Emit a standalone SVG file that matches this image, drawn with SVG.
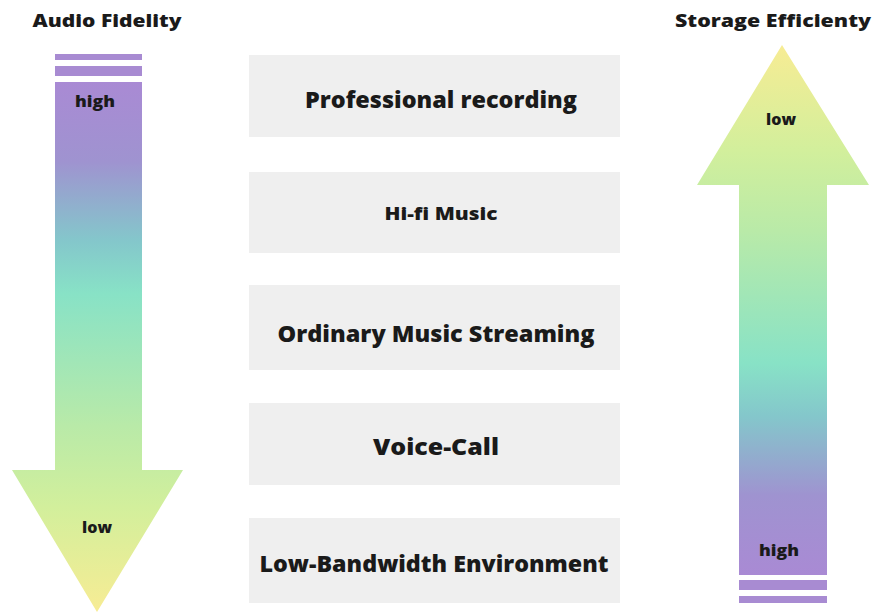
<svg xmlns="http://www.w3.org/2000/svg" width="872" height="613" viewBox="0 0 872 613">
<style>
.t{font-family:"Open Sans","Liberation Sans",sans-serif;font-weight:800;fill:#1a1a1a;text-anchor:middle}
.box{fill:#efefef}
.stripe{fill:#a88bd2}
</style>
<defs>
<linearGradient id="gL" x1="0" y1="82" x2="0" y2="612" gradientUnits="userSpaceOnUse">
<stop offset="0" stop-color="#a98ad4"/>
<stop offset="0.15" stop-color="#9f93d0"/>
<stop offset="0.3" stop-color="#84c7cb"/>
<stop offset="0.4" stop-color="#88e2c6"/>
<stop offset="0.65" stop-color="#b9eaa8"/>
<stop offset="0.8" stop-color="#d2ef9c"/>
<stop offset="1" stop-color="#f7ec94"/>
</linearGradient>
<linearGradient id="gR" x1="0" y1="575" x2="0" y2="45" gradientUnits="userSpaceOnUse">
<stop offset="0" stop-color="#a98ad4"/>
<stop offset="0.15" stop-color="#9f93d0"/>
<stop offset="0.3" stop-color="#84c7cb"/>
<stop offset="0.4" stop-color="#88e2c6"/>
<stop offset="0.65" stop-color="#b9eaa8"/>
<stop offset="0.8" stop-color="#d2ef9c"/>
<stop offset="1" stop-color="#f7ec94"/>
</linearGradient>
</defs>
<rect width="872" height="613" fill="#ffffff"/>

<g id="audio-fidelity">
<text class="t" x="107" y="27" font-size="18" textLength="149" lengthAdjust="spacingAndGlyphs">Audio Fidelity</text>
<rect class="stripe" x="55" y="54" width="87" height="6"/>
<rect class="stripe" x="55" y="66" width="87" height="10"/>
<polygon points="55,82 142,82 142,470 183,470 97,612 12,470 55,470" fill="url(#gL)"/>
<text class="t" x="95" y="107" font-size="15" textLength="40" lengthAdjust="spacingAndGlyphs">high</text>
<text class="t" x="97" y="533" font-size="15" textLength="30" lengthAdjust="spacingAndGlyphs">low</text>
</g>

<g id="storage-efficiency">
<text class="t" x="773" y="27" font-size="18" textLength="196" lengthAdjust="spacingAndGlyphs">Storage Efficienty</text>
<polygon points="782,45 869,185 827,185 827,575 739,575 739,185 697,185" fill="url(#gR)"/>
<rect class="stripe" x="739" y="580" width="88" height="10"/>
<rect class="stripe" x="739" y="596" width="88" height="7"/>
<text class="t" x="781" y="125" font-size="15" textLength="30" lengthAdjust="spacingAndGlyphs">low</text>
<text class="t" x="779" y="556" font-size="15" textLength="40" lengthAdjust="spacingAndGlyphs">high</text>
</g>

<g id="professional-recording">
<rect class="box" x="249" y="55" width="371" height="82"/>
<text class="t" x="441" y="108" font-size="23" textLength="272" lengthAdjust="spacingAndGlyphs">Professional recording</text>
</g>
<g id="hifi-music">
<rect class="box" x="249" y="172" width="371" height="81"/>
<text class="t" x="441" y="220" font-size="18" textLength="113" lengthAdjust="spacingAndGlyphs">Hi-fi Music</text>
</g>
<g id="ordinary-streaming">
<rect class="box" x="249" y="285" width="371" height="85"/>
<text class="t" x="436" y="342" font-size="23" textLength="317" lengthAdjust="spacingAndGlyphs">Ordinary Music Streaming</text>
</g>
<g id="voice-call">
<rect class="box" x="249" y="403" width="371" height="82"/>
<text class="t" x="436" y="455" font-size="23" textLength="126" lengthAdjust="spacingAndGlyphs">Voice-Call</text>
</g>
<g id="low-bandwidth">
<rect class="box" x="249" y="518" width="371" height="85"/>
<text class="t" x="434" y="572" font-size="23" textLength="349" lengthAdjust="spacingAndGlyphs">Low-Bandwidth Environment</text>
</g>
<g id="connectors"/>
</svg>
